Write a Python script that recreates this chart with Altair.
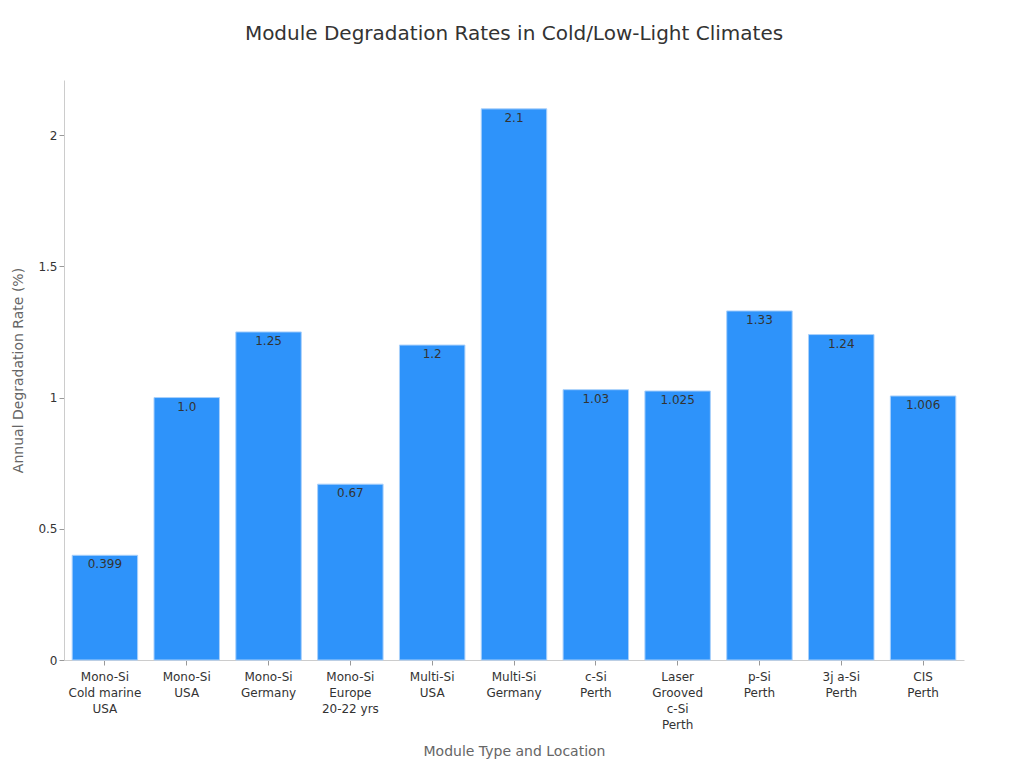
import altair as alt
import pandas as pd

categories = [
    "Mono-Si\nCold marine\nUSA",
    "Mono-Si\nUSA",
    "Mono-Si\nGermany",
    "Mono-Si\nEurope\n20-22 yrs",
    "Multi-Si\nUSA",
    "Multi-Si\nGermany",
    "c-Si\nPerth",
    "Laser\nGrooved\nc-Si\nPerth",
    "p-Si\nPerth",
    "3j a-Si\nPerth",
    "CIS\nPerth",
]
rates = [0.399, 1.0, 1.25, 0.67, 1.2, 2.1, 1.03, 1.025, 1.33, 1.24, 1.006]

df = pd.DataFrame({"cat": categories, "rate": rates})

FONT = "DejaVu Sans"

base = alt.Chart(df).encode(
    x=alt.X(
        "cat:N",
        sort=None,
        scale=alt.Scale(paddingInner=0.2, paddingOuter=0.1),
        axis=alt.Axis(
            title="Module Type and Location",
            labelAngle=0,
            labelExpr="split(datum.label, '\\n')",
            labelFontSize=12,
            labelColor="#333333",
            labelLineHeight=16,
            titleFontSize=14,
            titleFontWeight="normal",
            titleColor="#666666",
            titlePadding=14,
            domainColor="#cccccc",
            tickColor="#999999",
            labelPadding=6,
        ),
    ),
    y=alt.Y(
        "rate:Q",
        scale=alt.Scale(domain=[0, 2.21], nice=False),
        axis=alt.Axis(
            title="Annual Degradation Rate (%)",
            values=[0, 0.5, 1, 1.5, 2],
            format=".2~f",
            grid=False,
            labelFontSize=12,
            labelColor="#333333",
            titleFontSize=14,
            titleFontWeight="normal",
            titleColor="#666666",
            titlePadding=12,
            domainColor="#cccccc",
            tickColor="#999999",
        ),
    ),
)

bars = base.mark_bar(color="#2E93FA", stroke="#a9d0fb", strokeWidth=1)

labels = base.transform_calculate(
    lbl="datum.rate % 1 == 0 ? format(datum.rate, '.1f') : toString(datum.rate)"
).mark_text(baseline="top", dy=4, fontSize=12, color="#333333", font=FONT).encode(
    text="lbl:N"
)

chart = (
    (bars + labels)
    .properties(
        width=900,
        height=580,
        title=alt.TitleParams(
            "Module Degradation Rates in Cold/Low-Light Climates",
            fontSize=20,
            fontWeight="normal",
            color="#333333",
            offset=36,
            anchor="middle",
        ),
        autosize=alt.AutoSizeParams(type="none"),
        padding={"left": 56, "top": 72, "right": 52, "bottom": 100},
    )
    .configure(font=FONT)
    .configure_view(stroke=None)
)

chart.save("out.html", embed_options={"renderer": "svg", "actions": False})
